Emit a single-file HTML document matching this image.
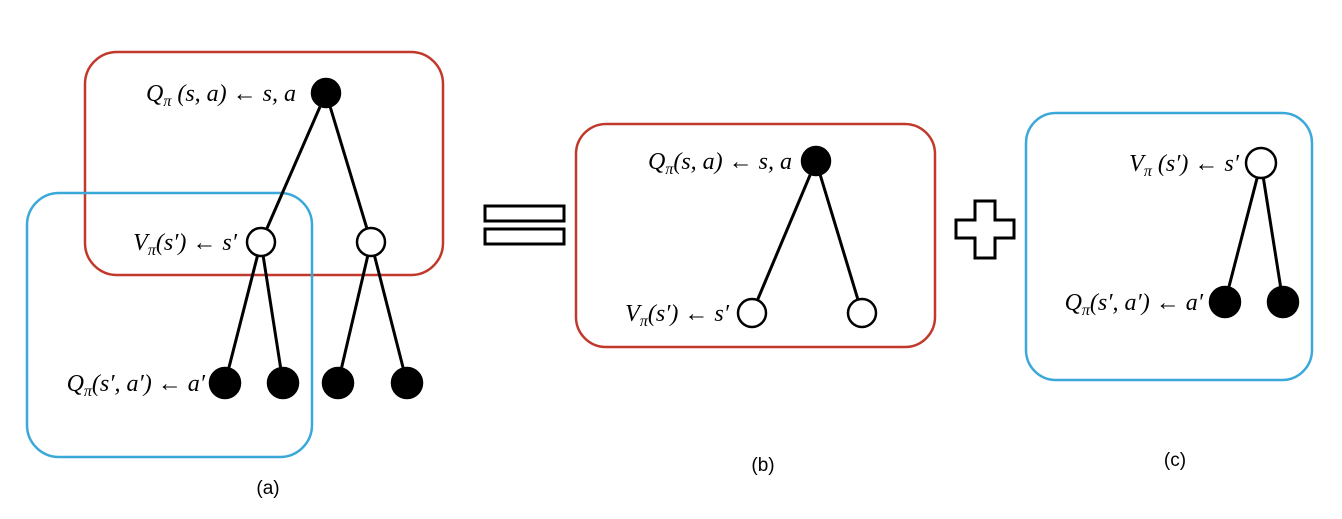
<!DOCTYPE html>
<html><head><meta charset="utf-8"><style>
html,body{margin:0;padding:0;background:#fff;}
svg text{font-family:"Liberation Serif",serif;font-style:italic;font-size:24px;fill:#000;}
svg text.cap{font-family:"Liberation Sans",sans-serif;font-style:normal;font-size:19px;}
</style></head><body>
<svg width="1342" height="514" viewBox="0 0 1342 514" xmlns="http://www.w3.org/2000/svg">
<g fill="none" stroke-width="2.5">
<rect x="85" y="52" width="358" height="223" rx="32" stroke="#c0392b"/>
<rect x="27" y="193" width="285" height="264" rx="32" stroke="#3aa8d8"/>
<rect x="576" y="124" width="359" height="223" rx="30" stroke="#c0392b"/>
<rect x="1026" y="113" width="286" height="267" rx="30" stroke="#3aa8d8"/>
</g>
<g stroke="#000" stroke-width="3">
<line x1="326" y1="93" x2="261" y2="242"/><line x1="326" y1="93" x2="371" y2="242"/>
<line x1="261" y1="242" x2="225" y2="383"/><line x1="261" y1="242" x2="283" y2="383"/>
<line x1="371" y1="242" x2="338" y2="383"/><line x1="371" y1="242" x2="407" y2="383"/>
<line x1="816" y1="161" x2="752" y2="313"/><line x1="816" y1="161" x2="862" y2="313"/>
<line x1="1261" y1="163" x2="1225" y2="302"/><line x1="1261" y1="163" x2="1283" y2="302"/>
</g>
<g stroke="#000" stroke-width="2.5">
<circle cx="326" cy="93" r="14" fill="#000"/>
<circle cx="261" cy="242" r="14" fill="#fff"/><circle cx="371" cy="242" r="14" fill="#fff"/>
<circle cx="225" cy="383" r="15" fill="#000"/><circle cx="283" cy="383" r="15" fill="#000"/>
<circle cx="338" cy="383" r="15" fill="#000"/><circle cx="407" cy="383" r="15" fill="#000"/>
<circle cx="816" cy="161" r="14" fill="#000"/>
<circle cx="752" cy="313" r="14" fill="#fff"/><circle cx="862" cy="313" r="14" fill="#fff"/>
<circle cx="1261" cy="163" r="15" fill="#fff"/>
<circle cx="1225" cy="302" r="15" fill="#000"/><circle cx="1283" cy="302" r="15" fill="#000"/>
</g>
<g fill="#fff" stroke="#000" stroke-width="3">
<rect x="485" y="206" width="79" height="15"/><rect x="485" y="229" width="79" height="15"/>
<path d="M975 201 H995 V220 H1014 V238 H995 V258 H975 V238 H956 V220 H975 Z"/>
</g>
<text x="296" y="101" text-anchor="end">Q<tspan font-size="16" dy="5">π</tspan><tspan dy="-5"> (s, a) ← s, a</tspan></text>
<text x="237" y="250" text-anchor="end">V<tspan font-size="16" dy="5">π</tspan><tspan dy="-5">(s′) ← s′</tspan></text>
<text x="205" y="391" text-anchor="end">Q<tspan font-size="16" dy="5">π</tspan><tspan dy="-5">(s′, a′) ← a′</tspan></text>
<text x="792" y="169" text-anchor="end">Q<tspan font-size="16" dy="5">π</tspan><tspan dy="-5">(s, a) ← s, a</tspan></text>
<text x="729" y="321" text-anchor="end">V<tspan font-size="16" dy="5">π</tspan><tspan dy="-5">(s′) ← s′</tspan></text>
<text x="1239" y="171" text-anchor="end">V<tspan font-size="16" dy="5">π</tspan><tspan dy="-5">  (s′) ← s′</tspan></text>
<text x="1203" y="310" text-anchor="end">Q<tspan font-size="16" dy="5">π</tspan><tspan dy="-5">(s′, a′) ← a′</tspan></text>
<text class="cap" x="268" y="494" text-anchor="middle">(a)</text>
<text class="cap" x="763" y="471" text-anchor="middle">(b)</text>
<text class="cap" x="1175" y="466" text-anchor="middle">(c)</text>
</svg>
</body></html>
